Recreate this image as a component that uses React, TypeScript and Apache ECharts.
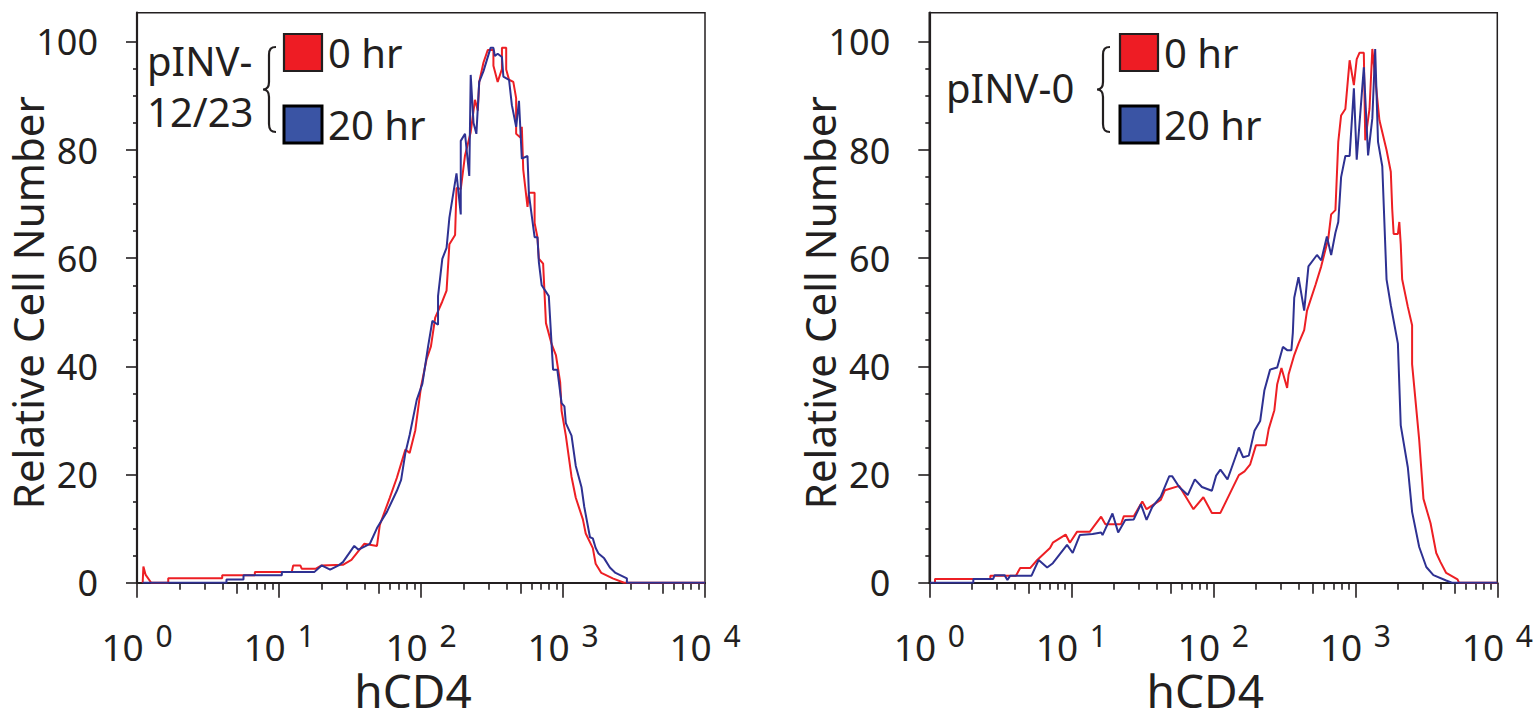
import React, { useEffect, useRef } from "react";
import * as echarts from "echarts";

// ---- data (x values are log10 of the hCD4 intensity, y = relative cell number) ----
const leftRedLogX = [0.04,0.045,0.06,0.10,0.22,0.22,0.60,0.60,0.83,0.83,1.09,1.10,1.15,1.16,1.26,1.30,1.45,1.51,1.60,1.69,1.71,1.78,1.83,1.89,1.92,1.96,2.00,2.04,2.07,2.10,2.15,2.18,2.20,2.24,2.25,2.28,2.31,2.35,2.38,2.40,2.41,2.44,2.47,2.51,2.51,2.54,2.57,2.57,2.60,2.60,2.62,2.65,2.67,2.67,2.70,2.71,2.72,2.75,2.76,2.80,2.80,2.82,2.83,2.86,2.88,2.92,2.95,2.98,2.99,3.02,3.06,3.09,3.14,3.16,3.21,3.23,3.27,3.35,3.43,4.0];
const leftRedY = [0,3.0,1.5,0,0,0.8,0.8,1.4,1.4,2.0,2.0,3.2,3.2,2.6,2.6,3.2,3.3,4.2,7.2,6.8,10.7,15.7,19.4,24.6,24.0,28.2,36.2,41.4,43.7,49.0,52.0,54.0,62.6,64.3,73.0,72.8,79.0,83.3,89.3,87.3,92.6,96.2,98.5,98.5,95.6,92.6,95.0,98.9,98.9,94.9,93.0,92.6,89.6,83.0,82.3,84.3,76.4,69.5,72.1,72.1,66.5,63.9,59.9,59.0,48.0,44.1,42.1,37.1,31.8,27.2,19.6,15.7,11.7,9.1,6.4,3.5,1.8,0.8,0,0];

const leftBlueLogX = [0.04,0.63,0.63,0.75,0.75,1.02,1.02,1.25,1.30,1.36,1.42,1.45,1.53,1.56,1.64,1.69,1.76,1.83,1.86,1.89,1.92,1.97,2.01,2.05,2.08,2.12,2.12,2.15,2.18,2.20,2.25,2.28,2.28,2.31,2.34,2.35,2.37,2.39,2.41,2.44,2.49,2.51,2.52,2.54,2.57,2.58,2.62,2.64,2.67,2.69,2.71,2.75,2.76,2.80,2.82,2.83,2.85,2.90,2.93,2.96,2.99,3.01,3.02,3.06,3.09,3.13,3.15,3.19,3.21,3.23,3.25,3.29,3.33,3.37,3.45,3.45,4.0];
const leftBlueY = [0,0,0.6,0.6,1.4,1.4,2.0,2.0,3.2,2.4,3.2,3.8,6.8,6.1,7.2,10.1,13.1,17.0,19.0,24.0,27.3,33.8,36.8,43.7,48.4,47.7,53.0,59.9,61.9,67.5,75.7,68.1,81.7,83.0,75.2,93.9,85.0,83.0,92.6,94.6,98.9,98.9,97.4,97.8,97.2,93.6,93.0,88.3,84.3,89.1,78.4,78.9,71.8,63.9,63.9,59.3,55.0,53.0,39.4,39.4,33.2,32.6,29.5,27.2,21.6,17.7,14.0,8.4,8.2,6.4,5.4,4.5,2.8,1.8,0.8,0,0];

const rightRedLogX = [0.04,0.04,0.43,0.43,0.61,0.64,0.71,0.76,0.85,0.87,0.96,0.99,1.04,1.13,1.21,1.24,1.35,1.37,1.44,1.50,1.53,1.63,1.66,1.76,1.86,1.93,1.99,2.05,2.10,2.18,2.22,2.26,2.30,2.37,2.39,2.43,2.45,2.48,2.52,2.53,2.57,2.60,2.64,2.66,2.72,2.76,2.81,2.83,2.86,2.88,2.90,2.93,2.96,2.99,3.01,3.03,3.06,3.07,3.10,3.12,3.13,3.17,3.22,3.25,3.26,3.27,3.30,3.31,3.32,3.33,3.37,3.40,3.40,3.45,3.48,3.53,3.57,3.60,3.64,3.72,3.73,4.0];
const rightRedY = [0,0.7,0.7,1.3,1.3,2.7,2.7,4.2,6.4,7.4,8.9,7.4,9.4,9.4,12.2,10.8,10.8,12.3,12.3,15.0,13.6,15.3,17.1,17.9,13.6,15.8,12.9,12.9,15.6,19.9,20.6,21.9,25.4,25.4,28.4,31.9,36.7,39.7,36.0,38.5,42.1,44.2,46.7,50.3,55.1,58.5,63.7,68.1,68.9,81.5,86.4,87.6,96.6,92.0,96.8,98.0,98.0,81.8,87.6,98.7,96.0,85.5,80.0,76.0,69.1,64.5,64.5,66.7,62.6,56.1,51.0,47.6,40.4,26.4,15.5,11.0,5.5,3.8,1.8,0.6,0,0];

const rightBlueLogX = [0.005,0.31,0.31,0.45,0.46,0.53,0.55,0.57,0.72,0.77,0.83,0.87,0.97,1.01,1.06,1.15,1.21,1.22,1.29,1.33,1.38,1.44,1.49,1.53,1.57,1.63,1.69,1.71,1.76,1.82,1.87,1.92,1.99,2.02,2.05,2.10,2.13,2.18,2.21,2.25,2.29,2.33,2.36,2.40,2.45,2.49,2.52,2.55,2.56,2.57,2.60,2.64,2.67,2.73,2.76,2.80,2.83,2.86,2.88,2.90,2.93,2.96,2.99,3.01,3.06,3.09,3.12,3.14,3.16,3.19,3.22,3.25,3.30,3.32,3.37,3.40,3.45,3.50,3.55,3.64,3.68,4.0];
const rightBlueY = [0,0,0.7,0.7,1.4,1.4,0.5,1.3,1.3,4.2,2.8,3.6,7.0,5.5,8.8,9.0,9.3,8.8,12.8,9.3,11.6,11.7,14.5,11.6,14.0,15.9,19.7,19.7,17.7,16.2,19.1,17.7,17.0,19.8,20.9,19.1,21.3,25.0,23.2,23.5,28.1,29.9,35.6,39.4,39.8,43.6,43.0,43.0,46.2,52.7,56.5,50.3,58.5,60.6,59.6,64.0,60.6,64.7,66.7,75.0,78.9,78.9,91.4,78.2,95.3,79.0,85.9,98.7,81.5,77.0,56.1,51.3,44.2,29.1,21.3,13.1,6.6,2.9,1.4,0.4,0,0];

const xDecadeTicks = [1, 10, 100, 1000, 10000];
const xFiveTicks = [5, 50, 500, 5000];
const xMinorTicks = [2,3,4,6,7,8,9,20,30,40,60,70,80,90,200,300,400,600,700,800,900,2000,3000,4000,6000,7000,8000,9000];
const yMajorTicks = [0, 20, 40, 60, 80, 100];
const yMinorTicks = [5,10,15,25,30,35,45,50,55,65,70,75,85,90,95];

const panels = [
  { group: ["pINV-", "12/23"], red: [leftRedLogX, leftRedY], blue: [leftBlueLogX, leftBlueY] },
  { group: ["pINV-0"], red: [rightRedLogX, rightRedY], blue: [rightBlueLogX, rightBlueY] },
];
const legendLabels = ["0 hr", "20 hr"];
const xTitle = "hCD4";
const yTitle = "Relative Cell Number";

const INK = "#231f20";
const RED = "#ed1f24";
const BLUE = "#2e3192";
const FONT = '"Noto Sans", "DejaVu Sans", sans-serif';

const BRACE_D = "M14 0 C9 0 7 2 7 8 L7 35 C7 40 5 42.5 1 42.5 C5 42.5 7 45 7 50 L7 77 C7 83 9 85 14 85";
let braceRegistered = false;
function ensureBrace() {
  if (braceRegistered) return;
  try {
    echarts.graphic.registerShape("brace", echarts.graphic.extendPath(BRACE_D, {}) as any);
  } catch (e) {}
  braceRegistered = true;
}

export default function App() {
  const ref = useRef<HTMLDivElement>(null);
  useEffect(() => {
    if (!ref.current) return;
    ensureBrace();
    const chart = echarts.init(ref.current, undefined, { renderer: "svg" });

    const gridLefts = [137, 929.3];
    const grids = gridLefts.map((l) => ({
      left: l, top: 12.7, width: 568, height: 570,
      show: true, borderColor: INK, borderWidth: 1.5, backgroundColor: "transparent",
      outerBoundsMode: "none", containLabel: false,
    }));

    const xAxes: any[] = [];
    const yAxes: any[] = [];
    const tickSets = [
      { vals: xDecadeTicks, len: 15 },
      { vals: xFiveTicks, len: 11 },
      { vals: xMinorTicks, len: 7 },
    ];
    [0, 1].forEach((g) => {
      tickSets.forEach((ts, k) => {
        xAxes.push({
          type: "log", logBase: 10, min: 1, max: 10000, gridIndex: g, position: "bottom",
          splitLine: { show: false }, minorTick: { show: false },
          axisLine: { show: k === 0, onZero: false, lineStyle: { color: INK, width: 2.2 } },
          axisTick: { show: true, inside: false, length: ts.len, customValues: ts.vals, lineStyle: { color: INK, width: 1.6 } },
          axisLabel: {
            show: k === 0, customValues: xDecadeTicks, margin: 38,
            formatter: (v: number) => `{b|10 }{e|${Math.round(Math.log10(v))}}`,
            rich: {
              b: { fontSize: 37, lineHeight: 44, verticalAlign: "bottom", fontFamily: FONT, color: INK },
              e: { fontSize: 30, lineHeight: 12, verticalAlign: "top", fontFamily: FONT, color: INK, padding: [0, 0, 0, 2] },
            },
          },
          name: k === 0 ? xTitle : "",
          nameLocation: "middle", nameGap: 84, nameMoveOverlap: false,
          nameTextStyle: { fontSize: 46, fontFamily: FONT, color: INK, padding: [0, 16, 0, 0] },
        });
      });
      [
        { vals: yMajorTicks, len: 11 },
        { vals: yMinorTicks, len: 4 },
      ].forEach((ts, k) => {
        yAxes.push({
          type: "value", min: 0, max: 105.4, gridIndex: g, position: "left",
          splitLine: { show: false }, minorTick: { show: false },
          axisLine: { show: k === 0, onZero: false, lineStyle: { color: INK, width: 2.2 } },
          axisTick: { show: true, inside: false, length: ts.len, customValues: ts.vals, lineStyle: { color: INK, width: 1.6 } },
          axisLabel: {
            show: k === 0, customValues: yMajorTicks, margin: 39,
            fontSize: 36, fontFamily: FONT, color: INK, padding: [11, 0, 0, 0],
          },
          name: k === 0 ? yTitle : "",
          nameLocation: "middle", nameGap: 89, nameMoveOverlap: false,
          nameTextStyle: { fontSize: 42, fontFamily: FONT, color: INK, padding: [0, 10, 0, 0] },
        });
      });
    });

    const series: any[] = [];
    panels.forEach((p, g) => {
      const mk = (arr: number[][], color: string, name: string) => ({
        type: "line", name, xAxisIndex: g * 3, yAxisIndex: g * 2,
        symbol: "none", showSymbol: false, clip: true,
        lineStyle: { color, width: 2 },
        data: arr[0].map((e, i) => [Math.pow(10, e), arr[1][i]]),
        z: name === "blue" ? 3 : 2,
      });
      series.push(mk(p.red as any, RED, "red"));
      series.push(mk(p.blue as any, BLUE, "blue"));
    });

    const textStyle = (t: string) => ({ text: t, fontSize: 40, fontFamily: FONT, fill: INK, align: "left", verticalAlign: "middle" });
    const legendFor = (groupX: number, braceX: number, boxX: number, groupLines: string[]) => {
      const els: any[] = [];
      if (groupLines.length === 2) {
        els.push({ type: "text", x: groupX, y: 60, style: textStyle(groupLines[0]) });
        els.push({ type: "text", x: groupX, y: 111, style: textStyle(groupLines[1]) });
      } else {
        els.push({ type: "text", x: groupX, y: 87, style: textStyle(groupLines[0]) });
      }
      els.push({ type: "brace", x: braceX, y: 47, style: { stroke: INK, lineWidth: 2.2, fill: "none" } });
      els.push({ type: "rect", shape: { x: boxX, y: 34, width: 38, height: 37 }, style: { fill: "#ee1c24", stroke: INK, lineWidth: 2.2 } });
      els.push({ type: "rect", shape: { x: boxX, y: 106, width: 38, height: 37 }, style: { fill: "#3a54a4", stroke: "#000", lineWidth: 3 } });
      els.push({ type: "text", x: boxX + 44, y: 52, style: textStyle(legendLabels[0]) });
      els.push({ type: "text", x: boxX + 44, y: 124, style: textStyle(legendLabels[1]) });
      return els;
    };

    chart.setOption({
      animation: false,
      backgroundColor: "#fff",
      grid: grids,
      xAxis: xAxes,
      yAxis: yAxes,
      series,
      graphic: [
        ...legendFor(147, 262, 284, panels[0].group),
        ...legendFor(946, 1096, 1120, panels[1].group),
      ],
    });
    return () => chart.dispose();
  }, []);
  return (
    <div
      ref={ref}
      style={{ position: "absolute", left: 0, top: 0, width: 1533, height: 721, background: "#fff" }}
    />
  );
}
